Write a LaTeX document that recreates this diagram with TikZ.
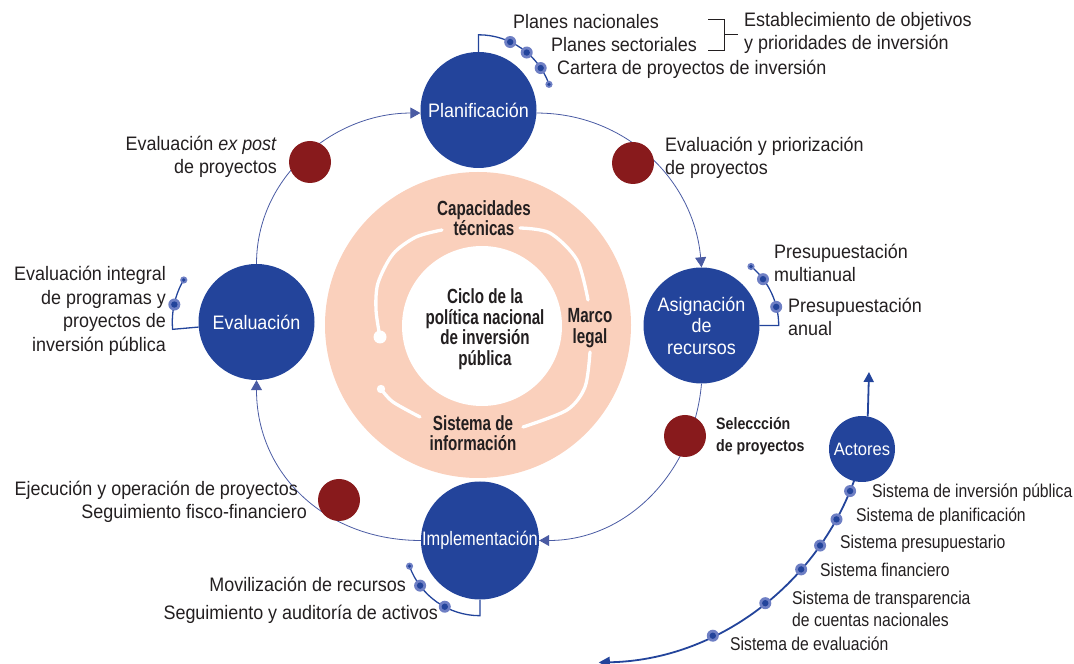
\documentclass[tikz,border=0pt]{standalone}
\usepackage{fontspec}
\setmainfont{Liberation Sans}[FakeStretch=0.92]
\newfontfamily\ringfont{Liberation Sans}[FakeStretch=0.74]
\newfontfamily\actfont{Liberation Sans}[FakeStretch=0.85]
\newfontfamily\selfont{Liberation Sans}[FakeStretch=0.86]
\newfontfamily\implfont{Liberation Sans}[FakeStretch=0.84]
\usetikzlibrary{arrows.meta}
\definecolor{cblue}{HTML}{23449B}
\definecolor{cred}{HTML}{881A1C}
\definecolor{peach}{HTML}{FAD0BC}
\definecolor{lblue}{HTML}{4A5BA3}
\definecolor{dotlight}{HTML}{6E7FC4}
\definecolor{txt}{HTML}{231F20}
\pgfdeclarelayer{bg}
\pgfsetlayers{bg,main}
\tikzset{
  bigc/.style={circle,fill=cblue,minimum size=116pt,inner sep=0pt,text=white,align=center,font=\fontsize{19.5}{21.5}\selectfont},
  reddot/.style={circle,fill=cred,minimum size=42pt,inner sep=0pt},
  lab/.style={text=txt,inner sep=0pt,font=\fontsize{19.5}{23.5}\selectfont},
  alab/.style={text=txt,inner sep=0pt,anchor=west,font=\actfont\fontsize{18.5}{22}\selectfont},
  ringlab/.style={text=txt,inner sep=0pt,align=center,font=\ringfont\bfseries\fontsize{20.5}{20.5}\selectfont},
  cyc/.style={draw=lblue,line width=0.8pt,-{Triangle[length=10pt,width=11pt]}},
  sub/.style={draw=cblue,line width=1.3pt},
  warc/.style={draw=white,line width=3.3pt,line cap=round},
  bdot/.pic={\fill[dotlight] (0,0) circle (6); \fill[cblue] (0,0) circle (3.2);},
  sdot/.pic={\fill[dotlight] (0,0) circle (3.6); \fill[cblue] (0,0) circle (1.8);},
}
\begin{document}
\begin{tikzpicture}[x=1pt,y=1pt]
\useasboundingbox (0,0) rectangle (1074,664);

% central ring
\node[circle,fill=peach,minimum size=306pt,inner sep=0pt] (ring) at (478,339) {};
\node[circle,fill=white,minimum size=160pt,inner sep=0pt] (core) at (482,338) {};
\draw[warc] plot[smooth] coordinates {(380,327) (376,354) (378,381) (393,410) (416,427) (442,434)};
\fill[white] (380,327) circle (6.5);
\draw[warc] plot[smooth] coordinates {(520,436) (550,431) (577,404) (588,364)};
\draw[warc] plot[smooth] coordinates {(590,312) (585,277) (567,254) (523,237)};
\draw[warc] plot[smooth] coordinates {(381,275) (393,262) (420,247)};
\fill[white] (381,275) circle (4.2);
\node[ringlab] (cap) at (484,446) {Capacidades\\técnicas};
\node[ringlab] (marco) at (590,336) {Marco\\legal};
\node[ringlab] (sist) at (473,231) {Sistema de\\información};
\node[ringlab] (ciclo) at (485,335) {Ciclo de la\\política nacional\\de inversión\\pública};

% main circles
\node[bigc] (plan) at (478.5,554) {Planificación};
\node[bigc] (asig) at (701.5,338.5) {Asignación\\de\\recursos};
\node[bigc,minimum size=118pt,font=\implfont\fontsize{19.5}{21.5}\selectfont] (impl) at (480,123.5) {Implementación};
\node[bigc] (eval) at (256.5,342) {Evaluación};
\node[circle,fill=cblue,minimum size=66pt,inner sep=0pt,text=white,font=\fontsize{18}{20}\selectfont] (act) at (862,215) {Actores};

% red dots
\node[reddot] (r1) at (310,502) {};
\node[reddot] (r2) at (633,501) {};
\node[reddot] (r3) at (685,228) {};
\node[reddot] (r4) at (339,164) {};

\coordinate (actS) at (857.4,192.9);
\coordinate (actT) at (869,292);

\begin{pgfonlayer}{bg}
\draw[cyc] (eval.north) to[out=90,in=180] (plan.183);
\draw[cyc] (plan.-3) to[out=0,in=95] (asig.north);
\draw[cyc] (asig.south) to[out=265,in=0] (impl.east);
\draw[cyc] (impl.west) to[out=180,in=270,looseness=1.05] (eval.south);
% actors
\draw[draw=cblue,line width=1.8pt,-{Triangle[length=10pt,width=10pt]}] (act.80) -- (actT);
\draw[draw=cblue,line width=1.8pt,-{Triangle[length=11pt,width=11pt]}] (actS) arc[start angle=-18,end angle=-89,radius=277];
% sub arcs
\draw[sub] (plan.north) -- ++(0,17) arc[start angle=90,end angle=20,radius=75];
\draw[sub] (asig.east) -- ++(19,0) arc[start angle=0,end angle=50,radius=77];
\draw[sub] (eval.185) -- ++(185:26) arc[start angle=185,end angle=150,radius=84];
\draw[sub] (impl.south) -- ++(0,-16) arc[start angle=-90,end angle=-160,radius=75];
\end{pgfonlayer}

% dots on sub arcs
\path (plan.center) ++(65:75) pic{bdot};
\path (plan.center) ++(50:75) pic{bdot};
\path (plan.center) ++(34:75) pic{bdot};
\path (plan.center) ++(20:75) pic{sdot};
\path (asig.center) ++(14:77) pic{bdot};
\path (asig.center) ++(37:77) pic{bdot};
\path (asig.center) ++(50:77) pic{sdot};
\path (eval.center) ++(168:84) pic{bdot};
\path (eval.center) ++(150:84) pic{sdot};
\path (impl.center) ++(-118:75) pic{bdot};
\path (impl.center) ++(-143:75) pic{bdot};
\path (impl.center) ++(-160:75) pic{sdot};
% dots on actors arc
\foreach \a in {-22.4,-28.9,-35.3,-41.6,-51.8,-64.6} {\path (594,278.5) ++(\a:277) pic{bdot};}

% top labels
\node[lab,anchor=west] (pn) at (513,642) {Planes nacionales};
\node[lab,anchor=west] (ps) at (551,619) {Planes sectoriales};
\node[lab,anchor=west] (cp) at (557,595) {Cartera de proyectos de inversión};
\draw[txt,line width=0.8pt] (708,645) -- (724,645) -- (724,614) -- (708,614);
\draw[txt,line width=0.8pt] (724,630) -- (738,630);
\node[lab,anchor=west,align=left] (est) at (744,631) {Establecimiento de objetivos\\y prioridades de inversión};

% side labels
\node[lab,anchor=east,align=right] (expost) at (277,507) {Evaluación \emph{ex post}\\de proyectos};
\node[lab,anchor=west,align=left] (prior) at (665,506) {Evaluación y priorización\\de proyectos};
\node[lab,anchor=east,align=right] (integ) at (166,353) {Evaluación integral\\de programas y\\proyectos de\\inversión pública};
\node[lab,anchor=west,align=left] (pm) at (774,401) {Presupuestación\\multianual};
\node[lab,anchor=west,align=left] (pa) at (788,347) {Presupuestación\\anual};
\node[text=txt,inner sep=0pt,anchor=west,align=left,font=\selfont\bfseries\fontsize{16.5}{21.5}\selectfont] (sel) at (716,228) {Seleccción\\de proyectos};
\node[lab,anchor=east,align=right] (ejec) at (307,162) {Ejecución y operación de proyectos\hspace*{9pt}\\Seguimiento fisco-financiero};
\node[lab,anchor=east] (movil) at (406,80) {Movilización de recursos};
\node[lab,anchor=east] (segu) at (438,50) {Seguimiento y auditoría de activos};

% actors labels
\node[alab] (s1) at (872,171) {Sistema de inversión pública};
\node[alab] (s2) at (856,147) {Sistema de planificación};
\node[alab] (s3) at (840,120) {Sistema presupuestario};
\node[alab] (s4) at (820,94) {Sistema financiero};
\node[alab,align=left] (s5) at (792,55) {Sistema de transparencia\\de cuentas nacionales};
\node[alab] (s6) at (730,20) {Sistema de evaluación};
\end{tikzpicture}
\end{document}
